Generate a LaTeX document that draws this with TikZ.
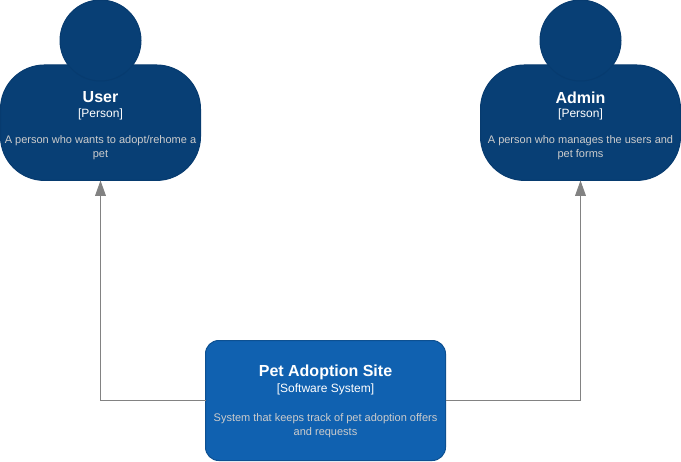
\documentclass[tikz,border=0pt]{standalone}
\usepackage{fontspec}
\setmainfont{Liberation Sans}
\usetikzlibrary{arrows.meta}
\definecolor{personfill}{HTML}{083F75}
\definecolor{personline}{HTML}{073B6F}
\definecolor{sitefill}{HTML}{1061B0}
\definecolor{siteline}{HTML}{0D5091}
\definecolor{linkgray}{HTML}{828282}
\definecolor{desctext}{HTML}{CCCCCC}

\begin{document}
\begin{tikzpicture}[x=0.75pt,y=-0.75pt,
    every node/.style={inner sep=0pt,outer sep=0pt},
    personbody/.style={draw=personline,fill=personfill,line width=0.75pt,rounded corners=33pt,minimum width=150pt,minimum height=86.6pt},
    personhead/.style={circle,draw=personline,fill=personfill,line width=0.75pt,minimum size=60.75pt},
    sitebox/.style={draw=siteline,fill=sitefill,line width=0.75pt,rounded corners=10pt,minimum width=180pt,minimum height=90pt},
    title/.style={text=white,font={\fontsize{12}{12}\selectfont\bfseries}},
    kind/.style={text=white,font={\fontsize{9}{9}\selectfont}},
    desc/.style={align=center,text=desctext,font={\fontsize{8.25}{10.1}\selectfont}},
    link/.style={draw=linkgray,line width=0.75pt,-{Triangle[length=11.5pt,width=8pt,fill=linkgray]}}]
  \useasboundingbox (0,0) rectangle (681,461);

  % Persons
  \node[personbody] (user) at (100.5,122.7) {};
  \node[personhead] (userhead) at (100.5,40.5) {};
  \node[personbody] (admin) at (580.5,122.7) {};
  \node[personhead] (adminhead) at (580.5,40.5) {};

  % Software system
  \node[sitebox] (site) at (325.5,400.5) {};

  % Links
  \draw[link] (site.west) -| (user.south);
  \draw[link] (site.east) -| (admin.south);

  % Texts
  \node[title] (usertitle) at (100.5,97.5) {User};
  \node[kind] (userkind) at (100.5,114) {[Person]};
  \node[desc] (userdesc) at (100.5,147.5) {A person who wants to adopt/rehome a\\pet};
  \node[title] (admintitle) at (580.5,97.5) {Admin};
  \node[kind] (adminkind) at (580.5,114) {[Person]};
  \node[desc] (admindesc) at (580.5,147.5) {A person who manages the users and\\pet forms};
  \node[title] (sitetitle) at (325.5,372.5) {Pet Adoption Site};
  \node[kind] (sitekind) at (325.5,389) {[Software System]};
  \node[desc] (sitedesc) at (325.5,425.5) {System that keeps track of pet adoption offers\\and requests};
\end{tikzpicture}
\end{document}
